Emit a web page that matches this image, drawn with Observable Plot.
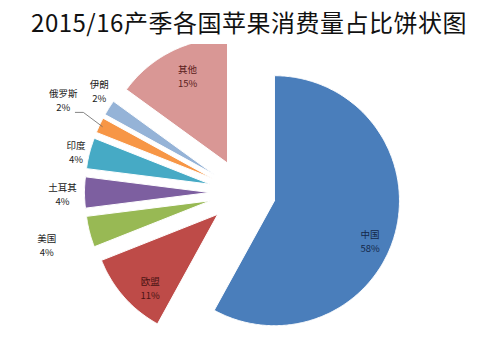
<!DOCTYPE html>
<html><head><meta charset="utf-8">
<script src="https://cdn.jsdelivr.net/npm/d3@7"></script>
<script src="https://cdn.jsdelivr.net/npm/@observablehq/plot@0.6"></script>
<style>
body{margin:0;background:#fff;}
#title{height:44px;line-height:44px;text-align:center;font-family:"Noto Sans CJK SC",sans-serif;font-size:24px;color:#111;letter-spacing:0.5px;white-space:nowrap;}
</style></head>
<body>
<div id="title">2015/16产季各国苹果消费量占比饼状图</div>
<div id="chart"></div>
<script>
// Data
const countries = ["中国", "欧盟", "美国", "土耳其", "印度", "俄罗斯", "伊朗", "其他"];
const shares = [58, 11, 4, 4, 4, 2, 2, 15];
const colors = ["#4A7EBB", "#BE4B48", "#98B954", "#7D5FA0", "#46AAC5", "#F79646", "#95B3D7", "#D99795"];
const labelColors = ["#14284a", "#4a1414", "#222", "#222", "#222", "#222", "#222", "#5a1c1c"];

// Layout
const W = 498, H = 312;
const cx = 242, cy = 148, R = 125, explode = 33;
// label placement: [distance from slice apex, angle offset in degrees]
const labelPlace = {"中国":[104,8.8],"欧盟":[101,-6.6],"美国":[170,-1.2],"土耳其":[147,-0.8],"印度":[138,-1.4],"俄罗斯":[168,2.1],"伊朗":[142,3.2],"其他":[95,2.1]};

const data = countries.map((c,i)=>({name:c, value:shares[i], color:colors[i], lc:labelColors[i]}));
const arcs = d3.pie().sort(null).value(d=>d.value)(data);
const dir = a => [Math.sin(a), -Math.cos(a)];

const polys = [], labels = [], leaders = [];
arcs.forEach(a=>{
  const mid = (a.startAngle+a.endAngle)/2;
  const [ux,uy] = dir(mid);
  const ax = cx + explode*ux, ay = cy + explode*uy;
  polys.push({name:a.data.name, x:ax, y:ay, color:a.data.color});
  const n = Math.max(2, Math.ceil((a.endAngle-a.startAngle)/0.01));
  for(let k=0;k<=n;k++){
    const t = a.startAngle + (a.endAngle-a.startAngle)*k/n;
    const [vx,vy] = dir(t);
    polys.push({name:a.data.name, x:ax+R*vx, y:ay+R*vy, color:a.data.color});
  }
  polys.push({name:a.data.name, x:ax, y:ay, color:a.data.color});
  const [ld, lo] = labelPlace[a.data.name];
  const [lx,ly] = dir(mid + lo*Math.PI/180);
  const L = {x:ax+ld*lx, y:ay+ld*ly, name:a.data.name, pct:`${a.data.value}%`, lc:a.data.lc};
  labels.push(L);
  if(a.data.name==="俄罗斯"){
    const ox = ax+(R-3)*ux, oy = ay+(R-3)*uy;
    leaders.push({x:L.x+12,y:L.y+11},{x:L.x+20,y:L.y+11},{x:ox,y:oy});
  }
});

const plot = Plot.plot({
  width: W, height: H,
  margin: 0,
  x: {domain:[0,W], range:[0,W], axis:null},
  y: {domain:[0,H], range:[0,H], axis:null},
  marks: [
    Plot.line(polys, {x:"x", y:"y", z:"name", fill:d=>d.color, stroke:"#fff", strokeWidth:1, curve:"linear"}),
    Plot.line(leaders, {x:"x", y:"y", stroke:"#666", strokeWidth:0.8}),
    Plot.text(labels, {x:"x", y:"y", text:"name", dy:-7, fill:d=>d.lc, fontSize:9.5, fontFamily:"Noto Sans CJK SC"}),
    Plot.text(labels, {x:"x", y:"y", text:"pct", dy:7, fill:d=>d.lc, fontSize:9.5, fontFamily:"Noto Sans CJK SC"})
  ]
});
document.getElementById("chart").appendChild(plot);
</script>
</body></html>
